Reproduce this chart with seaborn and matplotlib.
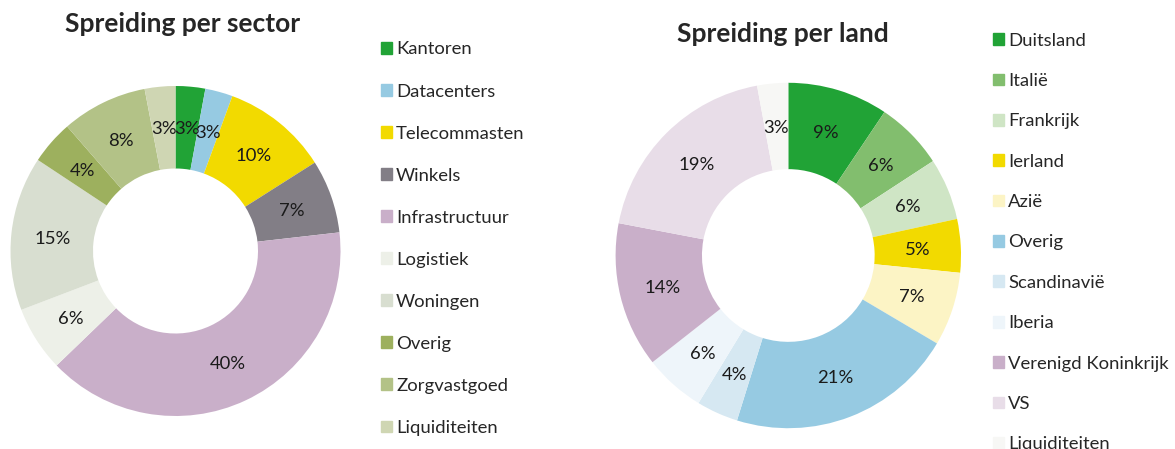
import matplotlib
matplotlib.use("Agg")
import matplotlib.pyplot as plt
import matplotlib.patches as mpatches
import seaborn as sns

sns.set_theme(style="white")
plt.rcParams['font.family'] = ['Lato', 'DejaVu Sans']

# Spreiding per sector
sector_labels = ["Kantoren", "Datacenters", "Telecommasten", "Winkels", "Infrastructuur",
                 "Logistiek", "Woningen", "Overig", "Zorgvastgoed", "Liquiditeiten"]
sector_values = [2.9, 2.7, 10.4, 7.2, 39.6, 6.4, 15.1, 4.3, 8.4, 3.0]
sector_colors = ["#21a336", "#96cae2", "#f2da00", "#827e86", "#c9afc9",
                 "#edf0e8", "#d8ded0", "#9db05e", "#b3c287", "#cfd6b3"]

# Spreiding per land
land_labels = ["Duitsland", "Italië", "Frankrijk", "Ierland", "Azië", "Overig",
               "Scandinavië", "Iberia", "Verenigd Koninkrijk", "VS", "Liquiditeiten"]
land_values = [9.4, 6.4, 5.8, 5.0, 6.9, 21.3, 3.9, 5.7, 13.6, 19.1, 2.9]
land_colors = ["#21a336", "#82be6e", "#cfe5c5", "#f2da00", "#fcf4c5", "#96cae2",
               "#d6e8f2", "#eef5fa", "#c9afc9", "#e8dde8", "#f7f7f5"]

W, H = 1175, 449
fig = plt.figure(figsize=(W / 100, H / 100), dpi=100)


def donut(cx, cy, r, values, colors):
    ax = fig.add_axes([(cx - r) / W, (H - cy - r) / H, 2 * r / W, 2 * r / H])
    _, _, pct = ax.pie(values, colors=colors, startangle=90, counterclock=False,
                       wedgeprops=dict(width=0.5, linewidth=0),
                       autopct="%.0f%%", pctdistance=0.75,
                       textprops=dict(fontsize=13.3, color="#1a1a1a"))
    for t in pct:
        t.set_va("center_baseline")
    ax.set_xlim(-1, 1)
    ax.set_ylim(-1, 1)
    return ax


def legend(x, y, labels, colors, spacing):
    handles = [mpatches.Patch(color=c, label=l) for l, c in zip(labels, colors)]
    fig.legend(handles=handles, loc="upper left", bbox_to_anchor=(x / W, 1 - y / H),
               frameon=False, fontsize=13.3, handlelength=0.6, handleheight=0.6,
               handletextpad=0.22, labelspacing=spacing, borderpad=0, borderaxespad=0)


donut(175.5, 251, 165, sector_values, sector_colors)
donut(788.3, 255.5, 172.7, land_values, land_colors)

fig.text(183 / W, 1 - 24 / H, "Spreiding per sector", ha="center", va="center",
         fontsize=19, fontweight="bold")
fig.text(783 / W, 1 - 34.5 / H, "Spreiding per land", ha="center", va="center",
         fontsize=19, fontweight="bold")

legend(381, 41.5, sector_labels, sector_colors, 1.41)
legend(993, 32.5, land_labels, land_colors, 1.32)

fig.savefig("out.png", dpi=100)
